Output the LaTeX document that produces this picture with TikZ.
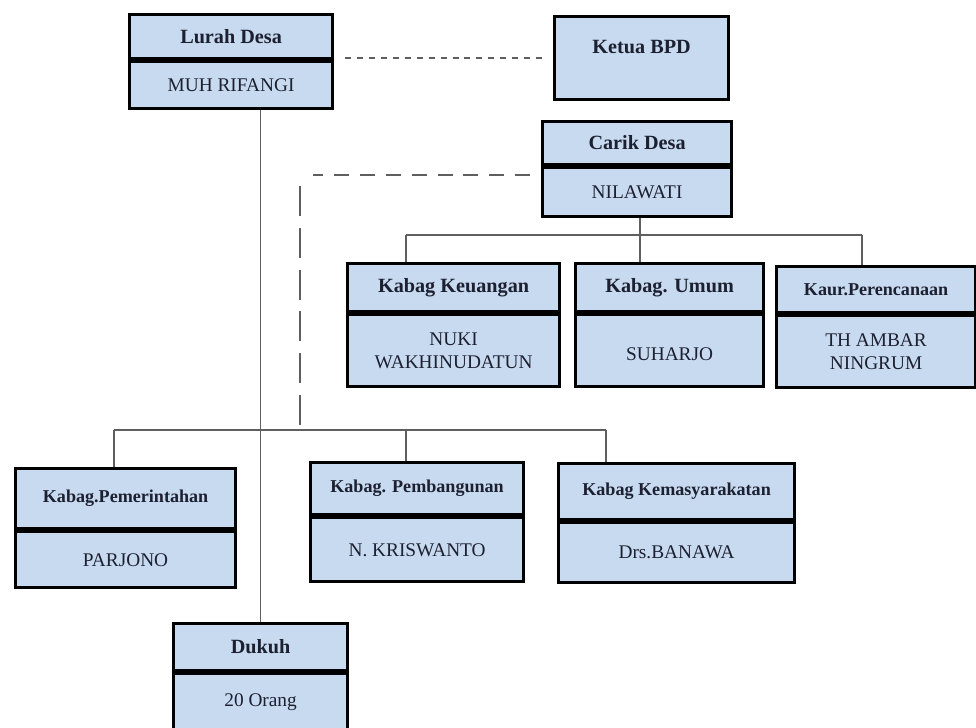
\documentclass[tikz,border=0pt]{standalone}
\usepackage{fontspec}
\setmainfont{Liberation Serif}
\definecolor{boxfill}{RGB}{200,218,240}
\definecolor{txt}{RGB}{28,32,48}
\definecolor{conn}{RGB}{95,95,95}
\newcommand\ttlfont{\fontsize{11.5}{13}\selectfont\bfseries}
\newcommand\ttlsmall{\fontsize{10.3}{12}\selectfont\bfseries}
\newcommand\bodyfont{\fontsize{11}{13.5}\selectfont}
\tikzset{
  part/.style={draw=black, line width=1.8pt, fill=boxfill, inner sep=0pt,
    anchor=north west, align=center, text=txt},
  link/.style={draw=conn, line width=0.8pt},
  dotlink/.style={draw=conn, line width=1pt, dash pattern=on 3.4pt off 3.4pt},
  dashlink/.style={draw=conn, line width=1pt, dash pattern=on 8.5pt off 6.2pt},
  vdashlink/.style={draw=conn, line width=1pt, dash pattern=on 17pt off 6.8pt},
}
\newcommand\orgbox[9]{%
  \node[part, minimum width=#4*0.02cm, minimum height=#5*0.02cm, font=#9] (#1T) at (#2,#3) {#7};
  \node[part, minimum width=#4*0.02cm, minimum height=#6*0.02cm, font=\bodyfont] (#1B) at (#1T.south west) {#8};
}
\begin{document}
\begin{tikzpicture}[x=0.02cm, y=-0.02cm]
\useasboundingbox[fill=white] (0,0) rectangle (976,727);

\coordinate (cb1) at (406,235);
\coordinate (cb2) at (862,235);
\coordinate (cbm) at (640,235);
\coordinate (lb1) at (114,430);
\coordinate (lb2) at (606,430);
\coordinate (lbm) at (406,430);
\coordinate (dh) at (313,175);
\coordinate (dv1) at (300,186);
\coordinate (dv2) at (300,430);
\coordinate (ce) at (530,175);
\coordinate (lr) at (345,58);
\coordinate (kl) at (545,58);

\orgbox{Lurah}{128}{13}{203}{44}{47}{Lurah Desa}{MUH RIFANGI}{\ttlfont}
\node[part, minimum width=174*0.02cm, minimum height=83*0.02cm] (Ketua) at (553,15) {};
\node[font=\ttlfont, text=txt] (KetuaL) at ([yshift=-0.64cm]Ketua.north) {Ketua BPD};
\orgbox{Carik}{541}{120}{189}{43}{49}{Carik Desa}{NILAWATI}{\ttlfont}
\orgbox{Keu}{346}{262}{212}{48}{72}{Kabag Keuangan}{NUKI\\WAKHINUDATUN}{\ttlfont}
\orgbox{Umum}{574}{262}{188}{48}{72}{Kabag. Umum}{\\[-2pt]SUHARJO}{\ttlfont}
\orgbox{Kaur}{775}{265}{199}{46}{72}{Kaur.Perencanaan}{TH AMBAR\\NINGRUM}{\ttlsmall}
\orgbox{Pem}{14}{467}{220}{60}{56}{Kabag.Pemerintahan}{PARJONO}{\ttlsmall}
\orgbox{Pemb}{309}{461}{213}{52}{64}{Kabag. Pembangunan}{N. KRISWANTO}{\ttlsmall}
\orgbox{Kem}{557}{462}{236}{56}{60}{Kabag Kemasyarakatan}{Drs.BANAWA}{\ttlsmall}
\orgbox{Dukuh}{172}{622}{174}{47}{56}{Dukuh}{20 Orang}{\ttlfont}

% Lurah -- Ketua (dotted)
\draw[dotlink] (lr) -- (kl);
% Lurah -- Dukuh
\draw[link] (LurahB.south -| DukuhT.north) -- (DukuhT.north);
% Carik tree
\draw[link] (CarikB.south -| cbm) -- (cbm);
\draw[link] (cb1) -- (cb2);
\draw[link] (cb1) -- (cb1 |- KeuT.north);
\draw[link] (cbm) -- (cbm |- UmumT.north);
\draw[link] (cb2) -- (cb2 |- KaurT.north);
% Carik dashed to lower group
\draw[dashlink] (ce) -- (dh);
\draw[vdashlink] (dv1) -- (dv2);
% lower bus
\draw[link, line width=1.1pt] (lb1) -- (lb2);
\draw[link] (lb1) -- (lb1 |- PemT.north);
\draw[link] (lbm) -- (lbm |- PembT.north);
\draw[link] (lb2) -- (lb2 |- KemT.north);
\end{tikzpicture}
\end{document}
